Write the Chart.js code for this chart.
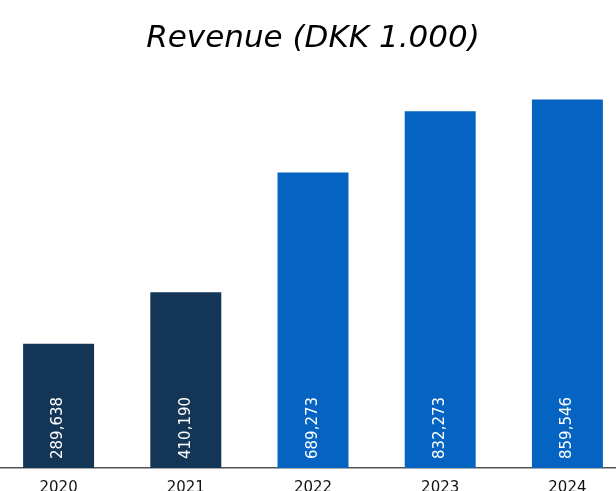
<!DOCTYPE html>
<html>
<head>
<meta charset="utf-8">
<script src="https://cdn.jsdelivr.net/npm/chart.js@4/dist/chart.umd.min.js"></script>
<style>
  html, body { margin: 0; padding: 0; background: #fff; overflow: hidden; }
  body { width: 616px; height: 491px; position: relative; }
  /* chart area is a bit wider and taller than the window, like the original export */
  #revenueChart { position: absolute; left: -5px; top: 0; }
</style>
</head>
<body>
<canvas id="revenueChart" width="636" height="508"></canvas>
<script>
const years = ["2020", "2021", "2022", "2023", "2024"];
const revenue = [289638, 410190, 689273, 832273, 859546];
const valueLabels = ["289,638", "410,190", "689,273", "832,273", "859,546"];
const barColors = ["#133657", "#133657", "#0563c1", "#0563c1", "#0563c1"];

// white rotated value labels at the foot of each bar
const barLabels = {
  id: "barLabels",
  afterDatasetsDraw(chart) {
    const ctx = chart.ctx;
    const meta = chart.getDatasetMeta(0);
    ctx.save();
    ctx.fillStyle = "#ffffff";
    ctx.font = "15px 'DejaVu Sans'";
    ctx.textAlign = "left";
    ctx.textBaseline = "middle";
    meta.data.forEach((bar, i) => {
      ctx.save();
      ctx.translate(bar.x, bar.base - 9);
      ctx.rotate(-Math.PI / 2);
      ctx.fillText(valueLabels[i], 0, 0);
      ctx.restore();
    });
    ctx.restore();
  }
};

new Chart(document.getElementById("revenueChart").getContext("2d"), {
  type: "bar",
  data: {
    labels: years,
    datasets: [{
      data: revenue,
      backgroundColor: barColors,
      categoryPercentage: 1,
      barPercentage: 0.558
    }]
  },
  options: {
    responsive: false,
    animation: false,
    layout: {
      padding: 0
    },
    plugins: {
      legend: { display: false },
      tooltip: { enabled: false },
      title: {
        display: true,
        text: "Revenue (DKK 1.000)",
        color: "#000000",
        font: { family: "'DejaVu Sans'", size: 31, style: "italic", weight: "normal", lineHeight: 1.2 },
        padding: { top: 20, bottom: 25 }
      }
    },
    scales: {
      x: {
        grid: { display: false, drawTicks: false },
        border: { display: true, color: "#555555", width: 1.5 },
        ticks: {
          color: "#111111",
          padding: 11,
          font: { family: "'DejaVu Sans'", size: 15 }
        }
      },
      y: {
        display: false,
        min: 0,
        max: 900000
      }
    }
  },
  plugins: [barLabels]
});
</script>
</body>
</html>
